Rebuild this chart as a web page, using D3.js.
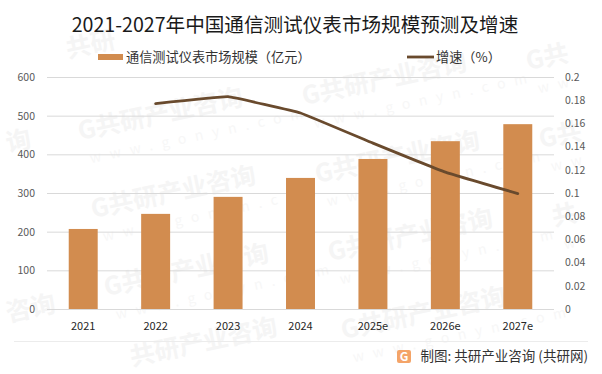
<!DOCTYPE html>
<html>
<head>
<meta charset="utf-8">
<script src="https://cdn.jsdelivr.net/npm/d3@7"></script>
<style>
  html, body { margin: 0; padding: 0; background: #fff; }
  svg { display: block; }
  text { font-family: "Noto Sans CJK SC", "Noto Sans", sans-serif; }
</style>
</head>
<body>
<div class="graph"></div>
<script>
const categories = ['2021', '2022', '2023', '2024', '2025e', '2026e', '2027e']
const scaleValues = [207, 246, 290, 339, 388, 434, 478]
const growthValues = [null, 0.177, 0.183, 0.169, 0.143, 0.118, 0.0995]
const leftTicks = [0, 100, 200, 300, 400, 500, 600]
const rightTicks = [0, 0.02, 0.04, 0.06, 0.08, 0.1, 0.12, 0.14, 0.16, 0.18, 0.2]

const titleText = '2021-2027年中国通信测试仪表市场规模预测及增速'
const barLabel = '通信测试仪表市场规模（亿元）'
const lineLabel = '增速（%）'
const sourceText = '制图: 共研产业咨询 (共研网)'
const markText = 'G共研产业咨询'
const markUrl = 'www.gonyn.com'

const width = 602, height = 374
const margin = { top: 77, right: 48, bottom: 65, left: 47 }
const barColor = '#d28c4f'
const lineColor = '#694a2d'

const svg = d3.select('.graph').append('svg')
  .attr('width', width)
  .attr('height', height)

// watermark, the ones at the edges only keep what is visible
const marks = [
  [80, 140, markText, markUrl], [93, 218, markText, markUrl], [106, 296, markText, markUrl],
  [304, 105, markText, markUrl], [317, 183, markText, markUrl], [330, 261, markText, markUrl],
  [343, 339, markText, markUrl],
  [528, 70, 'G共', 'ww'], [541, 148, 'G共', 'ww'], [554, 226, '共', 'w'],
  [8, 152, '询', ''], [8, 322, '咨询', ''], [132, 366, '共研产业咨询', ''], [68, 58, '共研', '']
]
const wm = svg.append('g').selectAll('g').data(marks).enter().append('g')
  .attr('transform', d => `translate(${d[0]},${d[1]}) rotate(-12)`)
wm.append('text')
  .attr('font-size', 25).attr('font-weight', 700).attr('fill', '#f5f5f5')
  .text(d => d[2])
wm.append('text')
  .attr('y', 25).attr('x', 6)
  .attr('font-size', 14).attr('letter-spacing', 9).attr('fill', '#f7f7f7')
  .text(d => d[3])

const x = d3.scaleBand()
  .domain(categories)
  .range([margin.left, width - margin.right])
  .paddingInner(0.6)
  .paddingOuter(0.3)

const yLeft = d3.scaleLinear()
  .domain([0, 600])
  .range([height - margin.bottom, margin.top])

const yRight = d3.scaleLinear()
  .domain([0, 0.2])
  .range([height - margin.bottom, margin.top])

// grid + left axis
const axisLeft = svg.append('g')
  .attr('transform', `translate(${margin.left},0)`)
  .call(d3.axisLeft(yLeft).tickValues(leftTicks).tickSize(0).tickPadding(12))
axisLeft.select('.domain').remove()
axisLeft.selectAll('text').attr('font-size', 10.5).attr('fill', '#595959')
axisLeft.selectAll('.tick').append('line')
  .attr('x2', width - margin.left - margin.right)
  .attr('stroke', '#d9d9d9')
  .attr('stroke-width', 1)

const axisRight = svg.append('g')
  .attr('transform', `translate(${width - margin.right},0)`)
  .call(d3.axisRight(yRight).tickValues(rightTicks).tickFormat(d => String(d)).tickSize(0).tickPadding(11))
axisRight.select('.domain').remove()
axisRight.selectAll('text').attr('font-size', 10.5).attr('fill', '#595959')

svg.append('g').selectAll('rect')
  .data(scaleValues)
  .enter().append('rect')
    .attr('x', (d, i) => x(categories[i]))
    .attr('y', d => yLeft(d))
    .attr('width', x.bandwidth())
    .attr('height', d => yLeft(0) - yLeft(d))
    .attr('fill', barColor)

const line = d3.line()
  .defined(d => d !== null)
  .x((d, i) => x(categories[i]) + x.bandwidth() / 2)
  .y(d => yRight(d))
  .curve(d3.curveCardinal.tension(0.8))

svg.append('path')
  .attr('d', line(growthValues))
  .attr('fill', 'none')
  .attr('stroke', lineColor)
  .attr('stroke-width', 2.8)
  .attr('stroke-linecap', 'round')

const axisBottom = svg.append('g')
  .attr('transform', `translate(0,${height - margin.bottom})`)
  .call(d3.axisBottom(x).tickSize(0).tickPadding(13))
axisBottom.select('.domain').remove()
axisBottom.selectAll('text').attr('font-size', 11).attr('fill', '#262626')

svg.append('text')
  .attr('x', 295).attr('y', 32)
  .attr('text-anchor', 'middle')
  .attr('font-size', 19.6)
  .attr('fill', '#1a1a1a')
  .text(titleText)

// legend
svg.append('rect').attr('x', 98).attr('y', 54).attr('width', 25).attr('height', 6).attr('fill', barColor)
svg.append('text').attr('x', 126).attr('y', 62).attr('font-size', 13.2).attr('fill', '#333').text(barLabel)
svg.append('line').attr('x1', 407).attr('x2', 434).attr('y1', 57).attr('y2', 57).attr('stroke', lineColor).attr('stroke-width', 2.8)
svg.append('text').attr('x', 436).attr('y', 62).attr('font-size', 13.2).attr('fill', '#333').text(lineLabel)

// footer
svg.append('line').attr('x1', 14).attr('x2', 588).attr('y1', 341.5).attr('y2', 341.5).attr('stroke', '#ececec')
svg.append('rect').attr('x', 397).attr('y', 350).attr('width', 14).attr('height', 13).attr('rx', 2).attr('fill', '#f4a468')
svg.append('text').attr('x', 404).attr('y', 361).attr('text-anchor', 'middle').attr('font-size', 12).attr('font-weight', 700).attr('fill', '#fff').text('G')
svg.append('text')
  .attr('x', 588).attr('y', 361)
  .attr('text-anchor', 'end')
  .attr('font-size', 13.5)
  .attr('fill', '#333')
  .text(sourceText)
</script>
</body>
</html>
